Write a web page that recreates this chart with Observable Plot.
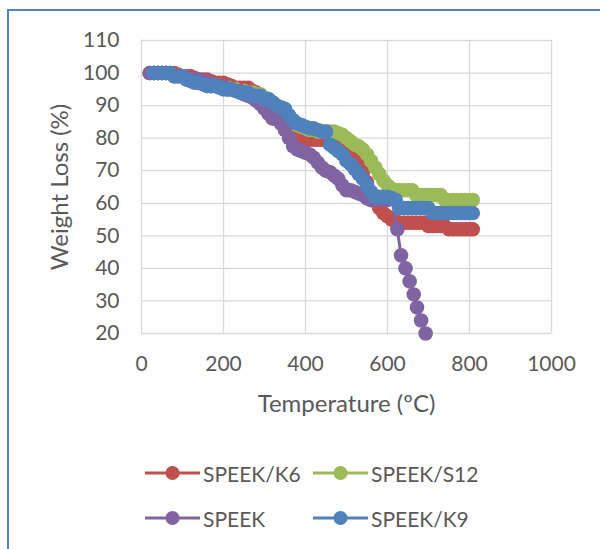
<!DOCTYPE html>
<html><head><meta charset="utf-8">
<script src="https://cdn.jsdelivr.net/npm/d3@7"></script>
<script src="https://cdn.jsdelivr.net/npm/@observablehq/plot@0.6"></script>
<style>
html,body{margin:0;padding:0;background:#fff;}
#fig{position:relative;width:600px;height:549px;overflow:hidden;font-family:Lato,"Open Sans",sans-serif;color:#595959;}
#border{position:absolute;left:7px;top:9px;width:800px;height:800px;border-left:2px solid #5181c0;border-top:2px solid #5181c0;}
#chart{position:absolute;left:0;top:0;}
.leg{position:absolute;display:flex;align-items:center;font-size:21px;line-height:1.2;color:#595959;white-space:nowrap;}
.leg span{margin-left:3px;}
</style></head><body>
<div id="fig"><div id="border"></div><div id="chart"></div><div id="legend"></div></div>
<script>
const seriesNames = ["SPEEK/K6", "SPEEK/S12", "SPEEK", "SPEEK/K9"];
const seriesColors = ["#C0504D", "#9BBB59", "#8064A2", "#4F81BD"];
const xTicks = [0, 200, 400, 600, 800, 1000];
const yTicks = [20, 30, 40, 50, 60, 70, 80, 90, 100, 110];
const xTitle = "Temperature (ºC)";
const yTitle = "Weight Loss (%)";

const temps = [20,30,40,50,60,70,80,90,100,110,120,130,140,150,160,170,180,190,200,210,220,230,240,250,260,270,280,290,300,310,320,330,340,350,360,370,380,390,400,410,420,430,440,450,460,470,480,490,500,510,520,530,540,550,560,570,580,590,600,610,620,630,640,650,660,670,680,690,700,710,720,730,740,750,760,770,780,790,800,808];

const k6 = [100,100,100,100,100,100,100,99.5,99,99,99,98.5,98,98,98,97.5,97,97,97,96.5,96,95.5,95.5,95.5,95.5,94.5,94,93,91.5,90,88.5,87.5,86,84.5,82.5,81,80,79.5,79.5,79.5,79.5,79.5,79.5,79.5,79.5,80,80,79.5,78.5,77,75,72.5,69.5,66.5,63,60.5,58.5,57,56,55,54.5,54,54,54,54,54,54,54,53,53,53,53,53,52,52,52,52,52,52,52];

const s12 = [100,100,100,100,100,100,99,99,99,98,98,97.5,97,97,96.5,96,96,96,95.5,95.5,95,95,94.5,94.5,94,94,93.5,93.5,92.5,91.5,90.5,89,88,87,85.5,84.5,84,83.5,83,82.5,82.5,82,82,82,82,82,81.5,81,80,79,78,77.5,76.5,75,73,71,69,67,65.5,64.5,64,64,64,64,64,62.5,62.5,62.5,62.5,62.5,62.5,62.5,61,61,61,61,61,61,61,61];

const k9 = [null,100,100,100,100,100,99,99,99,98,97.5,97,97,96.5,96,96,96,95.5,95,95,95,94.5,94,94,94,93,93,93,92,92,91,90,89.5,89,87,85.5,84.5,84,83.5,83,83,82.5,82,82,78,77,76,75,73,72,70.5,69,67.5,65.5,63.5,62,62,62,62,61.5,61,58.5,58.5,58.5,58.5,58.5,58.5,58.5,58.5,57,57,57,57,57,57,57,57,57,57,57];

const speekTemps = [20,30,40,50,60,70,80,90,100,110,120,130,140,150,160,170,180,190,200,210,220,230,240,250,260,270,280,290,300,310,320,330,340,350,360,370,380,390,400,410,420,430,440,450,460,470,480,490,500,510,520,530,540,550,560,570,580,590,600,610,624,633,644,654,664,672,682,693];
const speek = [100,100,100,100,100,100,99,99,99,98.5,98,98,98,97.5,97.5,96.5,96.5,96,96,95,95,94.5,94.5,93.5,93,92.5,91.5,90.5,89,87.5,86,86,84.5,82.5,80,77.5,76.5,76,75.5,75,74,72.5,71,70,69.5,68.5,67.5,65.5,64,64,63.5,63,62.5,61.5,61,61,61,61,61,61.5,52,44,40,36,32,28,24,20];

const seriesData = [
  {name: seriesNames[0], t: temps, w: k6},
  {name: seriesNames[1], t: temps, w: s12},
  {name: seriesNames[2], t: speekTemps, w: speek},
  {name: seriesNames[3], t: temps, w: k9}
];

const seriesMarks = seriesData.flatMap(s => {
  const rows = s.t.map((t, i) => ({series: s.name, t, w: s.w[i]}));
  return [
    Plot.line(rows, {x: "t", y: "w", stroke: "series", strokeWidth: 3}),
    Plot.dot(rows.filter(d => d.w != null), {x: "t", y: "w", fill: "series", r: 7.3, stroke: "none"})
  ];
});

const gridStyle = {stroke: "#d9d9d9", strokeOpacity: 1, strokeWidth: 1.3};

const chart = Plot.plot({
  width: 600,
  height: 440,
  marginLeft: 141,
  marginRight: 49,
  marginTop: 40,
  marginBottom: 107,
  x: {domain: [0, 1000]},
  y: {domain: [20, 110]},
  color: {domain: seriesNames, range: seriesColors},
  style: {fontFamily: "Lato, 'Open Sans', sans-serif", fontSize: "21px", color: "#595959", background: "transparent", overflow: "visible"},
  marks: [
    Plot.gridX(xTicks, gridStyle),
    Plot.gridY(yTicks, gridStyle),
    Plot.axisX(xTicks, {tickSize: 0, tickPadding: 23, label: null, tickFormat: "d", fill: "#595959"}),
    Plot.axisY(yTicks, {tickSize: 0, tickPadding: 22, label: null, tickFormat: "d", fill: "#595959"}),
    ...seriesMarks,
    Plot.text([xTitle], {text: d => d, frameAnchor: "bottom", dy: 71, textAnchor: "middle", lineAnchor: "middle", fontSize: 24, fill: "#595959"}),
    Plot.text([yTitle], {text: d => d, frameAnchor: "left", dx: -81, rotate: -90, textAnchor: "middle", lineAnchor: "middle", fontSize: 24, fill: "#595959"})
  ]
});
document.getElementById("chart").appendChild(chart);

// Legend (HTML, below the SVG)
const legendPos = [
  {left: 145, top: 473.3},
  {left: 313, top: 473.3},
  {left: 145, top: 518.3},
  {left: 313, top: 518.3}
];
const legend = document.getElementById("legend");
seriesNames.forEach((name, i) => {
  const c = seriesColors[i];
  const p = legendPos[i];
  const item = document.createElement("div");
  item.className = "leg";
  item.style.left = p.left + "px";
  item.style.top = (p.top - 14) + "px";
  item.style.height = "28px";
  item.innerHTML = `<svg width="55" height="16" viewBox="0 0 55 16"><line x1="0" y1="8" x2="55" y2="8" stroke="${c}" stroke-width="3"/><circle cx="27.5" cy="8" r="7" fill="${c}"/></svg><span>${name}</span>`;
  legend.appendChild(item);
});
</script>
</body></html>
